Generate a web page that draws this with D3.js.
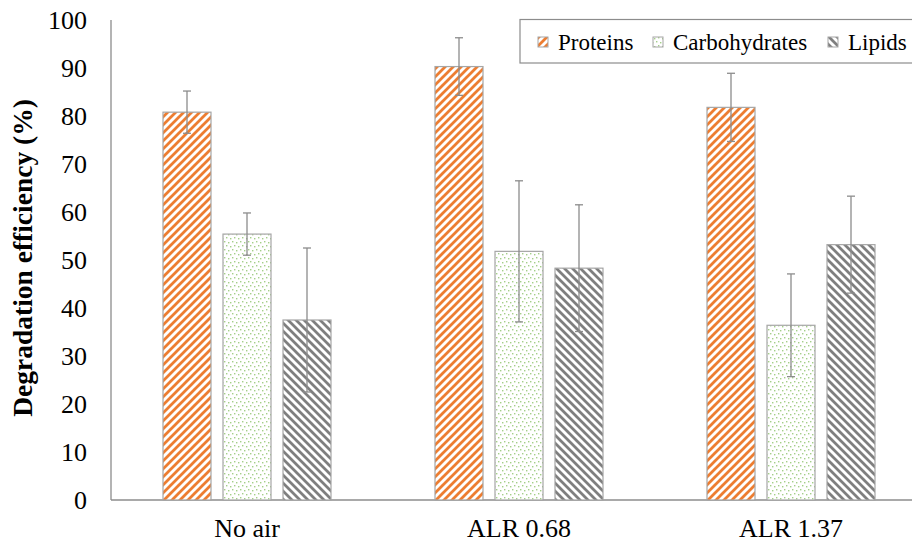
<!DOCTYPE html>
<html>
<head>
<meta charset="utf-8">
<script src="https://cdn.jsdelivr.net/npm/d3@7/dist/d3.min.js"></script>
<style>
  html, body { margin: 0; padding: 0; background: #fff; }
  svg { display: block; }
</style>
</head>
<body>
<svg id="chart" width="912" height="545"></svg>
<script>
// Degradation efficiency per condition and macromolecule
const categories = ["No air", "ALR 0.68", "ALR 1.37"];
const seriesNames = ["Proteins", "Carbohydrates", "Lipids"];
const proteins = [80.8, 90.3, 81.8];
const carbohydrates = [55.4, 51.8, 36.4];
const lipids = [37.5, 48.3, 53.2];
const proteinsErr = [4.4, 6.0, 7.1];
const carbohydratesErr = [4.4, 14.7, 10.7];
const lipidsErr = [15.0, 13.2, 10.1];
const yTicks = [0, 10, 20, 30, 40, 50, 60, 70, 80, 90, 100];

const values = [proteins, carbohydrates, lipids];
const errors = [proteinsErr, carbohydratesErr, lipidsErr];
const SERIF = "'Liberation Serif', Tinos, 'Times New Roman', 'DejaVu Serif', 'Noto Serif', serif";

const svg = d3.select("#chart");
const margin = { left: 111, top: 20, bottom: 45 };
const plotRight = 927; // plot area runs slightly past the visible edge
const height = 545 - margin.top - margin.bottom;

const x0 = d3.scaleBand().domain(categories).range([margin.left, plotRight]).paddingInner(0).paddingOuter(0);
const x1 = d3.scaleBand().domain(seriesNames).range([52, x0.bandwidth() - 52]).paddingInner(0.2).paddingOuter(0);
const y = d3.scaleLinear().domain([0, 100]).range([margin.top + height, margin.top]);

// fill patterns
const defs = svg.append("defs");
const pUp = defs.append("pattern").attr("id", "pat-proteins").attr("patternUnits", "userSpaceOnUse")
  .attr("width", 8).attr("height", 8);
pUp.append("rect").attr("width", 8).attr("height", 8).attr("fill", "#fff");
pUp.append("path").attr("d", "M-2,10 L10,-2 M-2,2 L2,-2 M6,10 L10,6")
  .attr("stroke", "#ED7D31").attr("stroke-width", 2.8);

const pDown = defs.append("pattern").attr("id", "pat-lipids").attr("patternUnits", "userSpaceOnUse")
  .attr("width", 8).attr("height", 8);
pDown.append("rect").attr("width", 8).attr("height", 8).attr("fill", "#fff");
pDown.append("path").attr("d", "M-2,-2 L10,10 M-2,6 L2,10 M6,-2 L10,2")
  .attr("stroke", "#7F7F7F").attr("stroke-width", 2.8);

const pDot = defs.append("pattern").attr("id", "pat-carbohydrates").attr("patternUnits", "userSpaceOnUse")
  .attr("width", 8).attr("height", 8);
pDot.append("rect").attr("width", 8).attr("height", 8).attr("fill", "#fff");
[[0, 1], [4, 2], [2, 5], [6, 6]].forEach(([px, py]) => {
  pDot.append("rect").attr("x", px).attr("y", py).attr("width", 1.4).attr("height", 1.4).attr("fill", "#A4CF88");
});
const fills = ["url(#pat-proteins)", "url(#pat-carbohydrates)", "url(#pat-lipids)"];

// axes lines
const axisColor = "#8c8c8c";
svg.append("line").attr("x1", margin.left).attr("x2", plotRight)
  .attr("y1", y(0)).attr("y2", y(0)).attr("stroke", axisColor).attr("stroke-width", 1.3);
svg.append("line").attr("x1", margin.left).attr("x2", margin.left)
  .attr("y1", y(0)).attr("y2", y(100)).attr("stroke", axisColor).attr("stroke-width", 1.3);

// y tick labels
svg.append("g").selectAll("text").data(yTicks).join("text")
  .attr("x", 87).attr("y", d => y(d)).attr("dy", "0.34em")
  .attr("text-anchor", "end").attr("font-size", 26).attr("font-family", SERIF).attr("fill", "#000")
  .text(d => d);

// x category labels
svg.append("g").selectAll("text").data(categories).join("text")
  .attr("x", d => x0(d) + x0.bandwidth() / 2).attr("y", 537)
  .attr("text-anchor", "middle").attr("font-size", 26).attr("font-family", SERIF).attr("fill", "#000")
  .text(d => d);

// y title
svg.append("text")
  .attr("transform", `translate(32,${y(50) - 2}) rotate(-90)`)
  .attr("text-anchor", "middle").attr("font-size", 27.5).attr("font-weight", "bold")
  .attr("font-family", SERIF)
  .text("Degradation efficiency (%)");

// bars
seriesNames.forEach((s, si) => {
  const g = svg.append("g");
  g.selectAll("rect").data(categories).join("rect")
    .attr("x", d => x0(d) + x1(s))
    .attr("y", (d, i) => y(values[si][i]))
    .attr("width", x1.bandwidth())
    .attr("height", (d, i) => y(0) - y(values[si][i]))
    .attr("fill", fills[si])
    .attr("stroke", "#a6a6a6").attr("stroke-width", 1.2);
});

// error bars
seriesNames.forEach((s, si) => {
  const g = svg.append("g").attr("stroke", "#8c8c8c").attr("stroke-width", 1.3);
  categories.forEach((c, i) => {
    const cx = x0(c) + x1(s) + x1.bandwidth() / 2;
    const v = values[si][i], e = errors[si][i];
    g.append("line").attr("x1", cx).attr("x2", cx).attr("y1", y(v + e)).attr("y2", y(v - e));
    g.append("line").attr("x1", cx - 4).attr("x2", cx + 4).attr("y1", y(v + e)).attr("y2", y(v + e));
    g.append("line").attr("x1", cx - 4).attr("x2", cx + 4).attr("y1", y(v - e)).attr("y2", y(v - e));
  });
});

// legend
const legend = svg.append("g");
legend.append("rect").attr("x", 520).attr("y", 19.5).attr("width", 400).attr("height", 43.5)
  .attr("fill", "#fff").attr("stroke", "#8c8c8c").attr("stroke-width", 1.2);
const legendX = [538, 653, 828];
seriesNames.forEach((s, si) => {
  legend.append("rect").attr("x", legendX[si]).attr("y", 37).attr("width", 10).attr("height", 10)
    .attr("fill", fills[si]).attr("stroke", "#a6a6a6").attr("stroke-width", 1);
  legend.append("text").attr("x", legendX[si] + 20).attr("y", 50)
    .attr("font-size", 23).attr("font-family", SERIF).attr("fill", "#000").text(s);
});
</script>
</body>
</html>
